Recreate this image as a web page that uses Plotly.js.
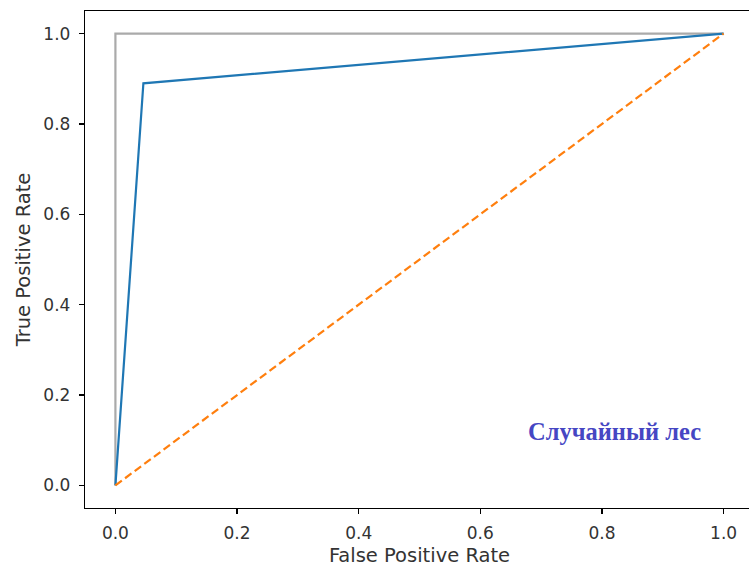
<!DOCTYPE html>
<html>
<head>
<meta charset="utf-8">
<script src="https://cdn.plot.ly/plotly-3.0.1.min.js"></script>
<style>
  html, body { margin: 0; padding: 0; overflow: hidden; background: #fff; }
  #chart { width: 754px; height: 571px; }
</style>
</head>
<body>
<div id="chart"></div>
<script>
// ROC curve of the random forest classifier
const fpr = [0.0, 0.046, 1.0];
const tpr = [0.0, 0.89, 1.0];

// Ideal classifier (perfect ROC)
const idealFpr = [0.0, 0.0, 1.0];
const idealTpr = [0.0, 1.0, 1.0];

// Random guessing diagonal
const chanceFpr = [0.0, 1.0];
const chanceTpr = [0.0, 1.0];

const tickVals = [0.0, 0.2, 0.4, 0.6, 0.8, 1.0];
const tickText = ["0.0", "0.2", "0.4", "0.6", "0.8", "1.0"];

const modelName = "Случайный лес";

const traces = [
  { x: idealFpr, y: idealTpr, mode: "lines", line: { color: "#aaaaaa", width: 2.2 }, hoverinfo: "skip" },
  { x: fpr, y: tpr, mode: "lines", line: { color: "#1f77b4", width: 2.2 } },
  { x: chanceFpr, y: chanceTpr, mode: "lines", line: { color: "#ff7f0e", width: 2.2, dash: "8px,4px" } }
];

const axisCommon = {
  showgrid: false,
  zeroline: false,
  showline: true,
  mirror: true,
  linecolor: "#000",
  linewidth: 1.2,
  ticks: "outside",
  ticklen: 5,
  tickwidth: 1.2,
  tickcolor: "#000",
  tickvals: tickVals,
  ticktext: tickText,
  tickfont: { family: "DejaVu Sans", size: 17, color: "#333" }
};

const layout = {
  width: 754,
  height: 571,
  margin: { l: 85, r: 0, t: 11, b: 63 },
  paper_bgcolor: "#fff",
  plot_bgcolor: "#fff",
  showlegend: false,
  xaxis: Object.assign({}, axisCommon, {
    range: [-0.05, 1.05],
    ticklabelstandoff: 4,
    title: { text: "False Positive Rate", font: { family: "DejaVu Sans", size: 19.5, color: "#333" }, standoff: 6 }
  }),
  yaxis: Object.assign({}, axisCommon, {
    range: [-0.05, 1.05],
    ticklabelstandoff: 5,
    title: { text: "True Positive Rate", font: { family: "DejaVu Sans", size: 19.5, color: "#333" }, standoff: 7 }
  }),
  annotations: [{
    x: 0.82, y: 0.12, xref: "x", yref: "y",
    text: "<b>" + modelName + "</b>",
    showarrow: false,
    font: { family: "Liberation Serif", size: 24.5, color: "#4646c3" }
  }]
};

Plotly.newPlot("chart", traces, layout, { displayModeBar: false, staticPlot: true });
</script>
</body>
</html>
